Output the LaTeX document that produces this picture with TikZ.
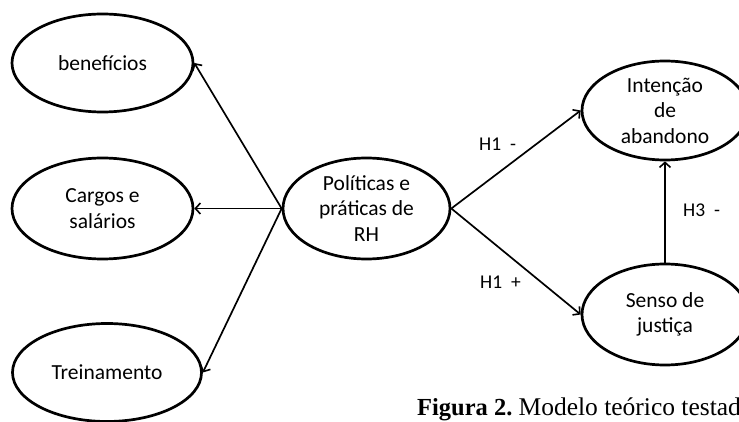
\documentclass[tikz,border=0pt]{standalone}
\usepackage{fontspec}
\setmainfont{Carlito}
\newfontfamily\capfont{Liberation Serif}
\usetikzlibrary{shapes.geometric,arrows.meta}
\begin{document}
\begin{tikzpicture}[x=1pt,y=-1pt,
  oval/.style={ellipse,draw,line width=2.7pt,inner sep=0pt,align=center,
    font=\fontsize{21.5}{25.5}\selectfont},
  arr/.style={line width=1.7pt,-{Straight Barb[length=5pt,width=11pt,line width=1.6pt]}},
  lbl/.style={anchor=base west,inner sep=0pt,font=\fontsize{19.5}{22}\selectfont}]
\useasboundingbox (0,0) rectangle (739,422);
\node[oval,minimum width=181pt,minimum height=98pt] (ben) at (102.5,63) {benefícios};
\node[oval,minimum width=181pt,minimum height=101pt] (car) at (102.5,208.5) {Cargos e\\salários};
\node[oval,minimum width=189pt,minimum height=98pt] (tre) at (107,372.5) {Treinamento};
\node[oval,minimum width=167pt,minimum height=101pt] (pol) at (366.5,208.5) {Políticas e\\práticas de\\RH};
\node[oval,minimum width=166pt,minimum height=99pt] (int) at (665,110.5) {Intenção\\de\\abandono};
\node[oval,minimum width=166pt,minimum height=101pt] (sen) at (665,314.5) {Senso de\\justiça};
\draw[arr] (pol.west) -- (ben.east);
\draw[arr] (pol.west) -- (car.east);
\draw[arr] (pol.west) -- (tre.east);
\draw[arr] (pol.east) -- (int.west);
\draw[arr] (pol.east) -- (sen.west);
\draw[arr] (sen.north) -- (int.south);
\node[lbl] (l1) at (479,151) {H1\ \ -};
\node[lbl] (l2) at (480,288) {H1\ \ +};
\node[lbl] (l3) at (683,217) {H3\ \ -};
\node[anchor=base west,inner sep=0pt,font=\capfont\fontsize{24.5}{28}\selectfont] (cap) at (417,415) {\bfseries Figura 2.\ \mdseries\fontsize{25.5}{28}\selectfont Modelo teórico testado};
\end{tikzpicture}
\end{document}
